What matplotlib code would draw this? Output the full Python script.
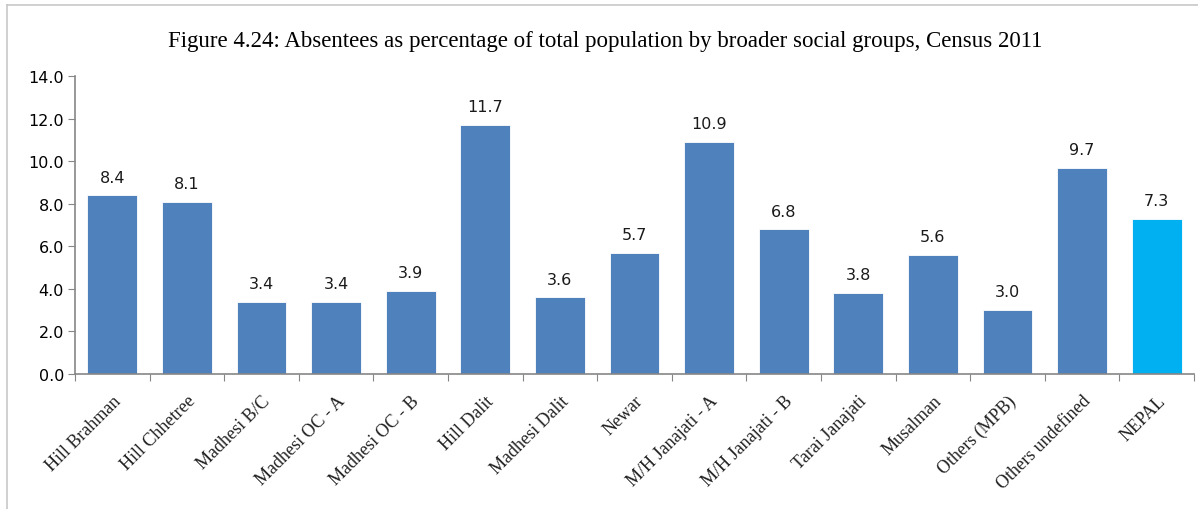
import matplotlib
matplotlib.use("Agg")
import matplotlib.pyplot as plt
from matplotlib.lines import Line2D

groups = ["Hill Brahman", "Hill Chhetree", "Madhesi B/C", "Madhesi OC - A",
          "Madhesi OC - B", "Hill Dalit", "Madhesi Dalit", "Newar",
          "M/H Janajati - A", "M/H Janajati - B", "Tarai Janajati", "Musalman",
          "Others (MPB)", "Others undefined", "NEPAL"]
absentee_pct = [8.4, 8.1, 3.4, 3.4, 3.9, 11.7, 3.6, 5.7, 10.9, 6.8, 3.8, 5.6, 3.0, 9.7, 7.3]
yticks = [0, 2, 4, 6, 8, 10, 12, 14]

bar_color = "#4F81BD"
nepal_color = "#00B0F0"
axis_color = "#868686"

fig = plt.figure(figsize=(11.98, 5.10), dpi=100)
ax = fig.add_axes([75 / 1198, (510 - 375) / 510, (1194 - 75) / 1198, (375 - 77) / 510])

x = list(range(len(groups)))
colors = [nepal_color if g == "NEPAL" else bar_color for g in groups]
bars = ax.bar(x, absentee_pct, width=0.67, color=colors, edgecolor="white", linewidth=0.6)

for xi, v in zip(x, absentee_pct):
    ax.text(xi, v + 0.5, f"{v:.1f}", ha="center", va="bottom",
            fontsize=11.5, family="DejaVu Sans", color="#1a1a1a")

ax.set_xlim(-0.5, len(groups) - 0.5)
ax.set_ylim(0, 14)
ax.set_yticks(yticks)
ax.set_yticklabels([f"{t:.1f}" for t in yticks], fontsize=11.5, family="DejaVu Sans")

# excel style: ticks between categories, labels at centres
ax.set_xticks([i - 0.5 for i in range(len(groups) + 1)])
ax.set_xticklabels([])
ax.set_xticks(x, minor=True)
ax.set_xticklabels(groups, minor=True, rotation=45, ha="right", rotation_mode="anchor",
                   fontsize=13, family="Liberation Serif", color="#222222")
ax.tick_params(axis="x", which="minor", length=0, pad=13)
ax.tick_params(axis="x", which="major", length=5, color=axis_color, direction="out")
ax.tick_params(axis="y", length=5, color=axis_color, direction="out", pad=3)

for side in ["top", "right"]:
    ax.spines[side].set_visible(False)
for side in ["left", "bottom"]:
    ax.spines[side].set_color(axis_color)
    ax.spines[side].set_linewidth(1.2)

fig.text(605 / 1198, 1 - 42 / 510,
         "Figure 4.24: Absentees as percentage of total population by broader social groups, Census 2011",
         ha="center", va="center", fontsize=16.5, family="Liberation Serif")

# frame lines (left and top only visible)
fig.add_artist(Line2D([7 / 1198, 7 / 1198], [0, 1 - 6 / 510], transform=fig.transFigure,
                      color="#c8c8c8", linewidth=1.2))
fig.add_artist(Line2D([7 / 1198, 1], [1 - 6 / 510, 1 - 6 / 510], transform=fig.transFigure,
                      color="#c8c8c8", linewidth=1.2))

fig.savefig("out.png", dpi=100)
